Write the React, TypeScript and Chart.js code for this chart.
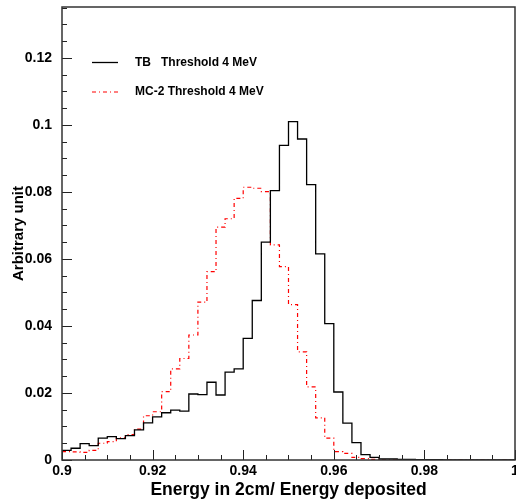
import { useEffect, useRef } from 'react';
import { Chart, registerables } from 'chart.js';

Chart.register(...registerables);

// Bin edges (51 edges, 50 bins of width 0.002)
const binEdges = [
  0.900, 0.902, 0.904, 0.906, 0.908, 0.910, 0.912, 0.914, 0.916, 0.918,
  0.920, 0.922, 0.924, 0.926, 0.928, 0.930, 0.932, 0.934, 0.936, 0.938,
  0.940, 0.942, 0.944, 0.946, 0.948, 0.950, 0.952, 0.954, 0.956, 0.958,
  0.960, 0.962, 0.964, 0.966, 0.968, 0.970, 0.972, 0.974, 0.976, 0.978,
  0.980, 0.982, 0.984, 0.986, 0.988, 0.990, 0.992, 0.994, 0.996, 0.998,
  1.000,
];

const tbValues = [
  0.0029, 0.0035, 0.0049, 0.0043, 0.0065, 0.0070, 0.0064, 0.0073, 0.0090, 0.0111,
  0.0129, 0.0141, 0.0149, 0.0146, 0.0197, 0.0195, 0.0232, 0.0194, 0.0262, 0.0272,
  0.0363, 0.0476, 0.0650, 0.0804, 0.0939, 0.1010, 0.0958, 0.0822, 0.0615, 0.0407,
  0.0203, 0.0110, 0.0052, 0.0016, 0.0008, 0.0003, 0.0003, 0.0002, 0.0002, 0.0001,
  0.0001, 0.0001, 0.0000, 0.0000, 0.0000, 0.0000, 0.0000, 0.0000, 0.0000, 0.0000,
];

const mcValues = [
  0.0025, 0.0024, 0.0023, 0.0029, 0.0050, 0.0055, 0.0066, 0.0076, 0.0092, 0.0132,
  0.0144, 0.0204, 0.0272, 0.0303, 0.0373, 0.0471, 0.0562, 0.0695, 0.0720, 0.0781,
  0.0814, 0.0811, 0.0801, 0.0642, 0.0577, 0.0464, 0.0323, 0.0218, 0.0126, 0.0065,
  0.0025, 0.0020, 0.0008, 0.0004, 0.0002, 0.0001, 0.0001, 0.0001, 0.0000, 0.0000,
  0.0000, 0.0000, 0.0000, 0.0000, 0.0000, 0.0000, 0.0000, 0.0000, 0.0000, 0.0000,
];

const xMajorTicks = [0.9, 0.92, 0.94, 0.96, 0.98, 1.0];
const xTickLabels = ['0.9', '0.92', '0.94', '0.96', '0.98', '1'];
const yMajorTicks = [0, 0.02, 0.04, 0.06, 0.08, 0.1, 0.12];
const yTickLabels = ['0', '0.02', '0.04', '0.06', '0.08', '0.1', '0.12'];

const seriesLabels = ['TB   Threshold 4 MeV', 'MC-2 Threshold 4 MeV'];

const FONT = '"Liberation Sans", Arial, Helvetica, sans-serif';

function toSteps(values: number[]) {
  const pts = values.map((v, i) => ({ x: binEdges[i], y: v }));
  pts.push({ x: binEdges[binEdges.length - 1], y: values[values.length - 1] });
  return pts;
}

function majorIndex(v: number, majors: number[]) {
  for (let i = 0; i < majors.length; i++) {
    if (Math.abs(v - majors[i]) < 1e-7) return i;
  }
  return -1;
}

const frameAndTicks = {
  id: 'frameAndTicks',
  afterDatasetsDraw(chart: any) {
    const { ctx, chartArea } = chart;
    const { left, right, top, bottom } = chartArea;
    const xs = chart.scales.x;
    const ys = chart.scales.y;
    ctx.save();
    ctx.strokeStyle = '#222';
    ctx.lineWidth = 1;
    ctx.beginPath();
    xs.ticks.forEach((t: any) => {
      const major = majorIndex(t.value, xMajorTicks) >= 0;
      const px = Math.round(xs.getPixelForValue(t.value)) + 0.5;
      const len = major ? 10 : 5;
      ctx.moveTo(px, bottom);
      ctx.lineTo(px, bottom - len);
    });
    ys.ticks.forEach((t: any) => {
      const major = majorIndex(t.value, yMajorTicks) >= 0;
      const py = Math.round(ys.getPixelForValue(t.value)) + 0.5;
      const len = major ? 10 : 5;
      ctx.moveTo(left, py);
      ctx.lineTo(left + len, py);
    });
    ctx.stroke();
    // frame
    ctx.strokeStyle = '#333';
    ctx.lineWidth = 1.5;
    ctx.strokeRect(left, top, right - left, bottom - top);
    ctx.restore();
  },
};

const insideLegend = {
  id: 'insideLegend',
  afterDraw(chart: any) {
    const { ctx, chartArea } = chart;
    const x0 = chartArea.left + 30;
    const x1 = chartArea.left + 56;
    const tx = chartArea.left + 73;
    const rows = [chartArea.top + 55.5, chartArea.top + 85];
    ctx.save();
    chart.data.datasets.forEach((ds: any, i: number) => {
      const y = rows[i];
      ctx.beginPath();
      ctx.strokeStyle = ds.borderColor;
      ctx.lineWidth = ds.borderWidth;
      ctx.setLineDash(ds.borderDash || []);
      ctx.moveTo(x0, y);
      ctx.lineTo(x1, y);
      ctx.stroke();
      ctx.setLineDash([]);
      ctx.fillStyle = '#000';
      ctx.font = `bold 12px ${FONT}`;
      ctx.textAlign = 'left';
      ctx.textBaseline = 'middle';
      ctx.fillText(ds.label, tx, y);
    });
    ctx.restore();
  },
};

export default function App() {
  const ref = useRef<HTMLCanvasElement | null>(null);

  useEffect(() => {
    if (!ref.current) return;
    const chart = new Chart(ref.current, {
      type: 'line',
      data: {
        datasets: [
          {
            label: seriesLabels[0],
            data: toSteps(tbValues),
            borderColor: '#000000',
            borderWidth: 1.3,
            stepped: 'before',
            pointRadius: 0,
            fill: false,
          },
          {
            label: seriesLabels[1],
            data: toSteps(mcValues),
            borderColor: '#ff0000',
            borderWidth: 1.2,
            borderDash: [4, 3, 1, 3],
            stepped: 'before',
            pointRadius: 0,
            fill: false,
          },
        ],
      },
      options: {
        animation: false,
        responsive: false,
        devicePixelRatio: 1,
        parsing: false as any,
        layout: { padding: { left: 0, top: 7, right: 1, bottom: 0 } },
        plugins: {
          legend: { display: false },
          tooltip: { enabled: false },
        },
        scales: {
          x: {
            type: 'linear',
            min: 0.9,
            max: 1.0,
            grid: { display: false, drawTicks: false, tickLength: 0 },
            border: { display: false },
            afterFit: (s: any) => { s.height = 42; s.paddingLeft = 0; s.paddingRight = 0; },
            ticks: {
              stepSize: 0.005,
              autoSkip: false,
              maxRotation: 0,
              padding: 3,
              color: '#000',
              font: { family: FONT, size: 14, weight: 'bold' },
              callback: (v: any) => {
                const i = majorIndex(Number(v), xMajorTicks);
                return i >= 0 ? xTickLabels[i] : '';
              },
            },
            title: {
              display: true,
              text: 'Energy in 2cm/ Energy deposited',
              color: '#000',
              padding: 0,
              font: { family: FONT, size: 17.5, weight: 'bold', lineHeight: '23px' as any },
            },
          },
          y: {
            type: 'linear',
            min: 0,
            max: 0.1352,
            grid: { display: false, drawTicks: false, tickLength: 0 },
            border: { display: false },
            afterFit: (s: any) => { s.width = 62; s.paddingTop = 0; s.paddingBottom = 0; },
            ticks: {
              stepSize: 0.005,
              autoSkip: false,
              includeBounds: false,
              padding: 10,
              color: '#000',
              font: { family: FONT, size: 14, weight: 'bold' },
              callback: (v: any) => {
                const i = majorIndex(Number(v), yMajorTicks);
                return i >= 0 ? yTickLabels[i] : '';
              },
            },
            title: {
              display: true,
              text: 'Arbitrary unit',
              color: '#000',
              padding: 0,
              font: { family: FONT, size: 15, weight: 'bold', lineHeight: '38px' as any },
            },
          },
        },
      },
      plugins: [frameAndTicks, insideLegend],
    });
    return () => chart.destroy();
  }, []);

  return (
    <div style={{ position: 'fixed', left: 0, top: 0, width: 516, height: 502, background: '#fff' }}>
      <canvas ref={ref} width={516} height={502} style={{ display: 'block' }} />
    </div>
  );
}
